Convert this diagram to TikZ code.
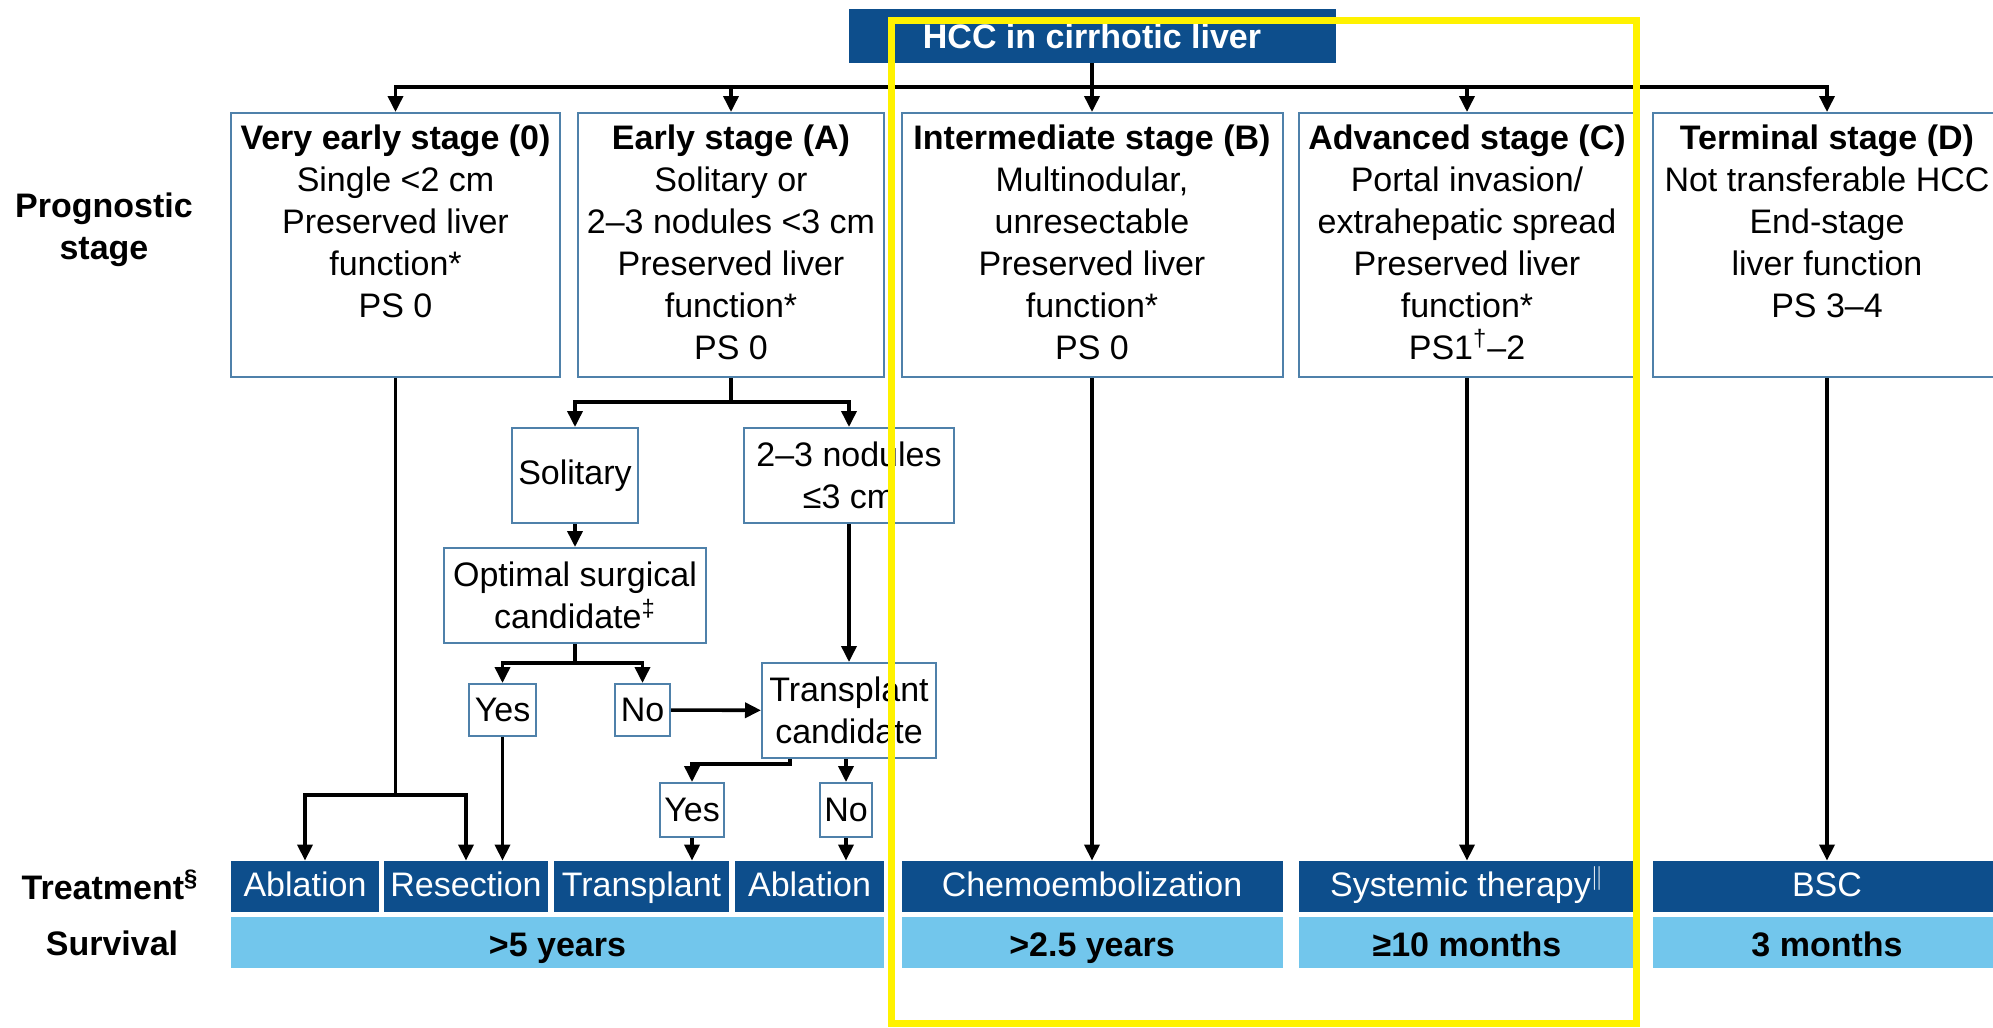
\documentclass[tikz,border=0pt]{standalone}
\usepackage{fontspec}
\setmainfont{Liberation Sans}
\usetikzlibrary{arrows.meta,positioning,calc}
\definecolor{bcldark}{HTML}{0D4E8C}
\definecolor{bcllight}{HTML}{72C6EC}
\definecolor{bclline}{HTML}{4F81AA}

\begin{document}
\begin{tikzpicture}[x=0.5pt,y=-0.5pt,
    font=\fontsize{17}{21}\selectfont,
    stagebox/.style={draw=bclline, line width=1pt, minimum height=132pt},
    stagetxt/.style={anchor=north, align=center, inner sep=0pt},
    smallbox/.style={draw=bclline, line width=1pt, fill=white, align=center, inner sep=0pt},
    treat/.style={fill=bcldark, text=white, minimum height=25.5pt, inner sep=0pt,
                  text height=13.3pt, text depth=2.9pt},
    surv/.style={fill=bcllight, font=\fontsize{17}{21}\selectfont\bfseries, minimum height=25.5pt,
                 inner sep=0pt, text height=14pt, text depth=0.5pt},
    side/.style={font=\fontsize{17}{21}\selectfont\bfseries, align=center},
    arr/.style={-{Triangle[width=7.5pt,length=8pt]}, line width=1.8pt},
    ln/.style={line width=1.8pt}]
    \useasboundingbox (0,0) rectangle (1993,1028);
    \clip (0,0) rectangle (1993,1028);
    \fill[white] (0,0) rectangle (1993,1028);

    % Top
    \node[fill=bcldark, text=white, font=\fontsize{17}{21}\selectfont\bfseries,
          minimum width=243.5pt, minimum height=27pt] (hcc) at (1092,36) {HCC in cirrhotic liver};
    \coordinate (bus) at (0,87);

    % Stages
    \node[stagebox, minimum width=164.5pt] (s0) at (395.5,245) {};
    \node[stagebox, minimum width=153pt] (sA) at (731,245) {};
    \node[stagebox, minimum width=190.5pt] (sB) at (1092,245) {};
    \node[stagebox, minimum width=168pt] (sC) at (1467,245) {};
    \node[stagebox, minimum width=174pt] (sD) at (1827,245) {};
    \node[stagetxt] (t0) at ($(s0.north)+(0,12)$) {\textbf{Very early stage (0)}\\Single <2 cm\\Preserved liver\\function*\\PS 0};
    \node[stagetxt] (tA) at ($(sA.north)+(0,12)$) {\textbf{Early stage (A)}\\Solitary or\\2–3 nodules <3 cm\\Preserved liver\\function*\\PS 0};
    \node[stagetxt] (tB) at ($(sB.north)+(0,12)$) {\textbf{Intermediate stage (B)}\\Multinodular,\\unresectable\\Preserved liver\\function*\\PS 0};
    \node[stagetxt] (tC) at ($(sC.north)+(0,12)$) {\textbf{Advanced stage (C)}\\Portal invasion/\\extrahepatic spread\\Preserved liver\\function*\\PS1\textsuperscript{†}–2};
    \node[stagetxt] (tD) at ($(sD.north)+(0,12)$) {\textbf{Terminal stage (D)}\\Not transferable HCC\\End-stage\\liver function\\PS 3–4};
    \draw[arr] (hcc) -- (sB);
    \draw[arr] (hcc.south |- bus) -| (s0.north);
    \draw[arr] (hcc.south |- bus) -| (sD.north);
    \foreach \s in {sA,sC} \draw[arr] (\s.north |- bus) -- (\s.north);

    % Early stage tree
    \node[smallbox, minimum width=63pt, minimum height=47.5pt] (sol) at (575,475.5) {Solitary};
    \node[smallbox, minimum width=105pt, minimum height=47.5pt] (nod) at (849,475.5) {2–3 nodules\\≤3 cm};
    \node[smallbox, minimum width=131pt, minimum height=47.5pt] (opt) at (575,595.5) {Optimal surgical\\candidate\textsuperscript{‡}};
    \node[smallbox, minimum width=33.5pt, minimum height=26pt] (yes1) at (502.5,710) {Yes};
    \node[smallbox, minimum width=27.5pt, minimum height=26pt] (no1) at (642.5,710) {No};
    \node[smallbox, minimum width=87pt, minimum height=47.5pt] (tc) at (849,710.5) {Transplant\\candidate};
    \node[smallbox, minimum width=32pt, minimum height=27pt] (yes2) at (692,810) {Yes};
    \node[smallbox, minimum width=26pt, minimum height=27pt] (no2) at (846,810) {No};
    \coordinate (splitA) at (0,402);
    \coordinate (splitO) at (0,663);
    \coordinate (splitT) at (0,764);
    \draw[arr] (sA.south) -- (sA.south |- splitA) -| (sol);
    \draw[arr] (sA.south |- splitA) -| (nod);
    \draw[arr] (sol) -- (opt);
    \draw[arr] (nod) -- (tc);
    \draw[arr] (opt.south) -- (opt.south |- splitO) -| (yes1);
    \draw[arr] (opt.south |- splitO) -| (no1);
    \draw[arr] (no1) -- (tc);
    \draw[arr] ([xshift=-29.5pt]tc.south) -- ([xshift=-29.5pt]tc.south |- splitT) -| (yes2);
    \draw[arr] (no2.north |- tc.south) -- (no2);

    % Treatment
    \node[treat, minimum width=74pt] (abl1) at (305,886.5) {Ablation};
    \node[treat, minimum width=82pt] (res) at (466,886.5) {Resection};
    \node[treat, minimum width=87.5pt] (trans) at (641.5,886.5) {Transplant};
    \node[treat, minimum width=74.5pt] (abl2) at (809.5,886.5) {Ablation};
    \node[treat, minimum width=190.5pt] (chemo) at (1092,886.5) {Chemoembolization};
    \node[treat, minimum width=168pt] (sys) at (1467,886.5) {Systemic therapy$^{\|}$};
    \node[treat, minimum width=174pt] (bsc) at (1827,886.5) {BSC};
    \coordinate (split0) at (0,795);
    \draw[arr] (s0.south) -- (s0.south |- split0) -| (abl1);
    \draw[arr] (s0.south |- split0) -| (res);
    \draw[arr] (yes1) -- (yes1 |- res.north);
    \draw[arr] (yes2) -- (yes2 |- trans.north);
    \draw[arr] (no2) -- (no2 |- abl2.north);
    \draw[arr] (sB) -- (chemo);
    \draw[arr] (sC) -- (sys);
    \draw[arr] (sD) -- (bsc);

    % Survival
    \node[surv, minimum width=326.5pt] (sv1) at (557.5,942.5) {>5 years};
    \node[surv, minimum width=190.5pt] (sv2) at (1092,942.5) {>2.5 years};
    \node[surv, minimum width=168pt] (sv3) at (1467,942.5) {≥10 months};
    \node[surv, minimum width=174pt] (sv4) at (1827,942.5) {3 months};

    % Row labels
    \node[side] (lprog) at (104,230) {Prognostic\\stage};
    \node[side] (ltreat) at (110,885) {Treatment\textsuperscript{§}};
    \node[side] (lsurv) at (112,943) {Survival};

    % Highlight
    \draw[yellow, line width=3.5pt] (891,20) rectangle (1636,1023);
\end{tikzpicture}
\end{document}
